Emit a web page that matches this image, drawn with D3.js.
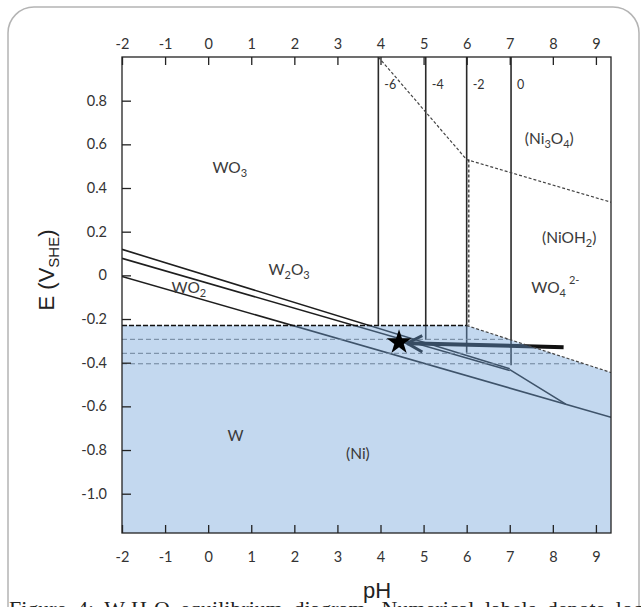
<!DOCTYPE html>
<html>
<head>
<meta charset="utf-8">
<script src="https://cdn.jsdelivr.net/npm/d3@7"></script>
<style>
  html, body { margin: 0; padding: 0; background: #fff; }
  svg { display: block; }
</style>
</head>
<body>
<svg id="chart" width="641" height="607"></svg>
<script>
// ---------------- data ----------------
const xTickValues = [-2, -1, 0, 1, 2, 3, 4, 5, 6, 7, 8, 9];
const yTickValues = [0.8, 0.6, 0.4, 0.2, 0, -0.2, -0.4, -0.6, -0.8, -1.0];
const xDomain = [-2, 9.35];
const yDomain = [-1.18, 1.0];

// W–H2O boundaries [pH, E]
const wo3Line  = [[-2, 0.119], [7.0, -0.428]];
const w2o3Line = [[-2, 0.078], [7.0, -0.436]];
const wo2Line  = [[-2, -0.005], [9.35, -0.65]];
const wo4Line  = [[7.0, -0.432], [8.3, -0.59]];

// Ni boundaries
const niOxideLine = [[3.95, 1.0], [6.0, 0.53], [9.35, 0.335]];
const niBoundary  = [[-2, -0.23], [6.0, -0.23], [9.35, -0.445]];
const niDashLevels = [-0.293, -0.357, -0.405];
const niDashVertical = [[6.05, 0.53], [6.05, -0.23]];

// concentration lines (log activity of WO4 2-)
const concPH     = [3.95, 5.05, 6.0, 7.03];
const concBottom = [-0.23, -0.295, -0.355, -0.412];
const concLabels = ["-6", "-4", "-2", "0"];

// region labels
const regionLabels = [
  { base: "WO", sub: "3", x: 0.1, y: 0.47 },
  { base: "W", sub: "2", mid: "O", sub2: "3", x: 1.4, y: 0.0 },
  { base: "WO", sub: "2", x: -0.85, y: -0.08 },
  { base: "(Ni", sub: "3", mid: "O", sub2: "4", post: ")", x: 7.35, y: 0.6 },
  { base: "(NiOH", sub: "2", post: ")", x: 7.75, y: 0.15 },
  { base: "WO", sub: "4", sup: "2-", x: 7.5, y: -0.08 },
  { base: "W", x: 0.45, y: -0.76 },
  { base: "(Ni)", x: 3.2, y: -0.84 }
];

const star  = [4.43, -0.307];
const arrow = [[8.25, -0.329], [4.62, -0.311]];

// ---------------- layout ----------------
const svg = d3.select("#chart");
const mLeft = 122, mRight = 611, mTop = 57, mBottom = 533;
const x = d3.scaleLinear().domain(xDomain).range([mLeft, mRight]);
const y = d3.scaleLinear().domain(yDomain).range([mBottom, mTop]);
const line = d3.line().x(d => x(d[0])).y(d => y(d[1]));
const tickFont = "Lato, 'Open Sans', sans-serif";

// card
svg.append("rect")
  .attr("x", 8).attr("y", 7).attr("width", 631).attr("height", 700)
  .attr("rx", 26).attr("ry", 26)
  .attr("fill", "#fff").attr("stroke", "#b4b4b4").attr("stroke-width", 1.5);

svg.append("defs").append("clipPath").attr("id", "plotclip")
  .append("rect").attr("x", mLeft).attr("y", mTop)
  .attr("width", mRight - mLeft).attr("height", mBottom - mTop);

const plot = svg.append("g").attr("clip-path", "url(#plotclip)");

// lines beneath the blue overlay
const dark = "#1e1e1e";
[wo3Line, w2o3Line, wo2Line, wo4Line].forEach(l => {
  plot.append("path").attr("d", line(l)).attr("fill", "none")
    .attr("stroke", dark).attr("stroke-width", 1.6);
});
concPH.forEach((p, i) => {
  plot.append("line")
    .attr("x1", x(p)).attr("x2", x(p))
    .attr("y1", y(yDomain[1])).attr("y2", y(concBottom[i]))
    .attr("stroke", "#2a2a2a").attr("stroke-width", 1.6);
});
niDashLevels.forEach(e => {
  const p0 = niBoundary[1], p1 = niBoundary[2];
  const t = (e - p0[1]) / (p1[1] - p0[1]);
  const pEnd = p0[0] + t * (p1[0] - p0[0]);
  plot.append("line")
    .attr("x1", x(xDomain[0])).attr("x2", x(pEnd))
    .attr("y1", y(e)).attr("y2", y(e))
    .attr("stroke", "#6e6e6e").attr("stroke-width", 1)
    .attr("stroke-dasharray", "5,3");
});
// arrow
plot.append("path").attr("d", line(arrow)).attr("fill", "none")
  .attr("stroke", "#111").attr("stroke-width", 4);
const tip = arrow[1];
plot.append("path")
  .attr("d", line([[tip[0] + 0.35, tip[1] + 0.035], tip, [tip[0] + 0.35, tip[1] - 0.04]]))
  .attr("fill", "none").attr("stroke", "#111").attr("stroke-width", 3);

// blue overlay (Ni stable region)
const bluePoly = niBoundary.concat([[xDomain[1], yDomain[0]], [xDomain[0], yDomain[0]]]);
plot.append("path").attr("d", line(bluePoly) + "Z")
  .attr("fill", "rgb(110,160,215)").attr("fill-opacity", 0.41);

// lines on top of overlay
plot.append("path").attr("d", line(niBoundary.slice(0, 2))).attr("fill", "none")
  .attr("stroke", "#111").attr("stroke-width", 1.4).attr("stroke-dasharray", "5,2");
plot.append("path").attr("d", line(niBoundary.slice(1))).attr("fill", "none")
  .attr("stroke", "#444").attr("stroke-width", 1.2).attr("stroke-dasharray", "3,2");
plot.append("path").attr("d", line(niOxideLine)).attr("fill", "none")
  .attr("stroke", "#444").attr("stroke-width", 1.2).attr("stroke-dasharray", "3,2");
plot.append("path").attr("d", line(niDashVertical)).attr("fill", "none")
  .attr("stroke", "#222").attr("stroke-width", 1.2).attr("stroke-dasharray", "3,2");

// star
plot.append("path")
  .attr("d", d3.symbol().type(d3.symbolStar).size(190)())
  .attr("transform", `translate(${x(star[0])},${y(star[1])})`)
  .attr("fill", "#000");

// concentration labels
concPH.forEach((p, i) => {
  plot.append("text")
    .attr("x", x(p) + 6).attr("y", 89)
    .attr("font-family", tickFont).attr("font-size", 12.5).attr("fill", "#333")
    .text(concLabels[i]);
});

// region labels
regionLabels.forEach(r => {
  const t = plot.append("text")
    .attr("x", x(r.x)).attr("y", y(r.y))
    .attr("font-family", tickFont).attr("font-size", 15.5).attr("fill", "#3a3a3a");
  t.append("tspan").text(r.base);
  if (r.sub) t.append("tspan").attr("font-size", 11).attr("dy", 4).text(r.sub);
  if (r.mid) t.append("tspan").attr("dy", -4).text(r.mid);
  if (r.sub2) t.append("tspan").attr("font-size", 11).attr("dy", 4).text(r.sub2);
  if (r.sup) t.append("tspan").attr("font-size", 11).attr("dy", -13).attr("dx", 3).text(r.sup);
  if (r.post) t.append("tspan").attr("dy", (r.sub2 || r.sub) ? -4 : 0).text(r.post);
});

// frame
svg.append("rect").attr("x", mLeft).attr("y", mTop)
  .attr("width", mRight - mLeft).attr("height", mBottom - mTop)
  .attr("fill", "none").attr("stroke", "#222").attr("stroke-width", 1.3);

// axes
function styleAxis(g) {
  g.select(".domain").remove();
  g.selectAll(".tick line").attr("stroke", "#222").attr("stroke-width", 1.3);
  g.selectAll(".tick text").attr("font-family", tickFont).attr("font-size", 14.5).attr("fill", "#333");
}
svg.append("g").attr("transform", `translate(0,${mTop})`)
  .call(d3.axisTop(x).tickValues(xTickValues).tickSize(-8).tickPadding(8).tickFormat(d => String(d)))
  .call(styleAxis);
svg.append("g").attr("transform", `translate(0,${mBottom})`)
  .call(d3.axisBottom(x).tickValues(xTickValues).tickSize(-8).tickPadding(19).tickFormat(d => String(d)))
  .call(styleAxis);
svg.append("g").attr("transform", `translate(${mLeft},0)`)
  .call(d3.axisLeft(y).tickValues(yTickValues).tickSize(-9).tickPadding(15)
    .tickFormat(d => d === 0 ? "0" : d.toFixed(1)))
  .call(styleAxis);

// axis titles
const yt = svg.append("text")
  .attr("transform", "translate(54,270) rotate(-90)")
  .attr("text-anchor", "middle")
  .attr("font-family", "'Liberation Sans', Arial, sans-serif").attr("font-size", 22).attr("fill", "#222");
yt.append("tspan").text("E (V");
yt.append("tspan").attr("font-size", 15).attr("dy", 5).text("SHE");
yt.append("tspan").attr("dy", -5).text(")");

svg.append("text").attr("x", 377).attr("y", 598).attr("text-anchor", "middle")
  .attr("font-family", "'Liberation Sans', Arial, sans-serif").attr("font-size", 22).attr("fill", "#222")
  .text("pH");

// caption (cut off by the window edge)
const cap = svg.append("text").attr("x", 9).attr("y", 616)
  .attr("font-family", "'Liberation Serif', 'Times New Roman', serif").attr("font-size", 22)
  .attr("word-spacing", 5).attr("fill", "#222");
cap.append("tspan").text("Figure 4: W-H");
cap.append("tspan").attr("font-size", 14).attr("dy", 4).text("2");
cap.append("tspan").attr("dy", -4).text("O equilibrium diagram. Numerical labels denote log activities.");
</script>
</body>
</html>
